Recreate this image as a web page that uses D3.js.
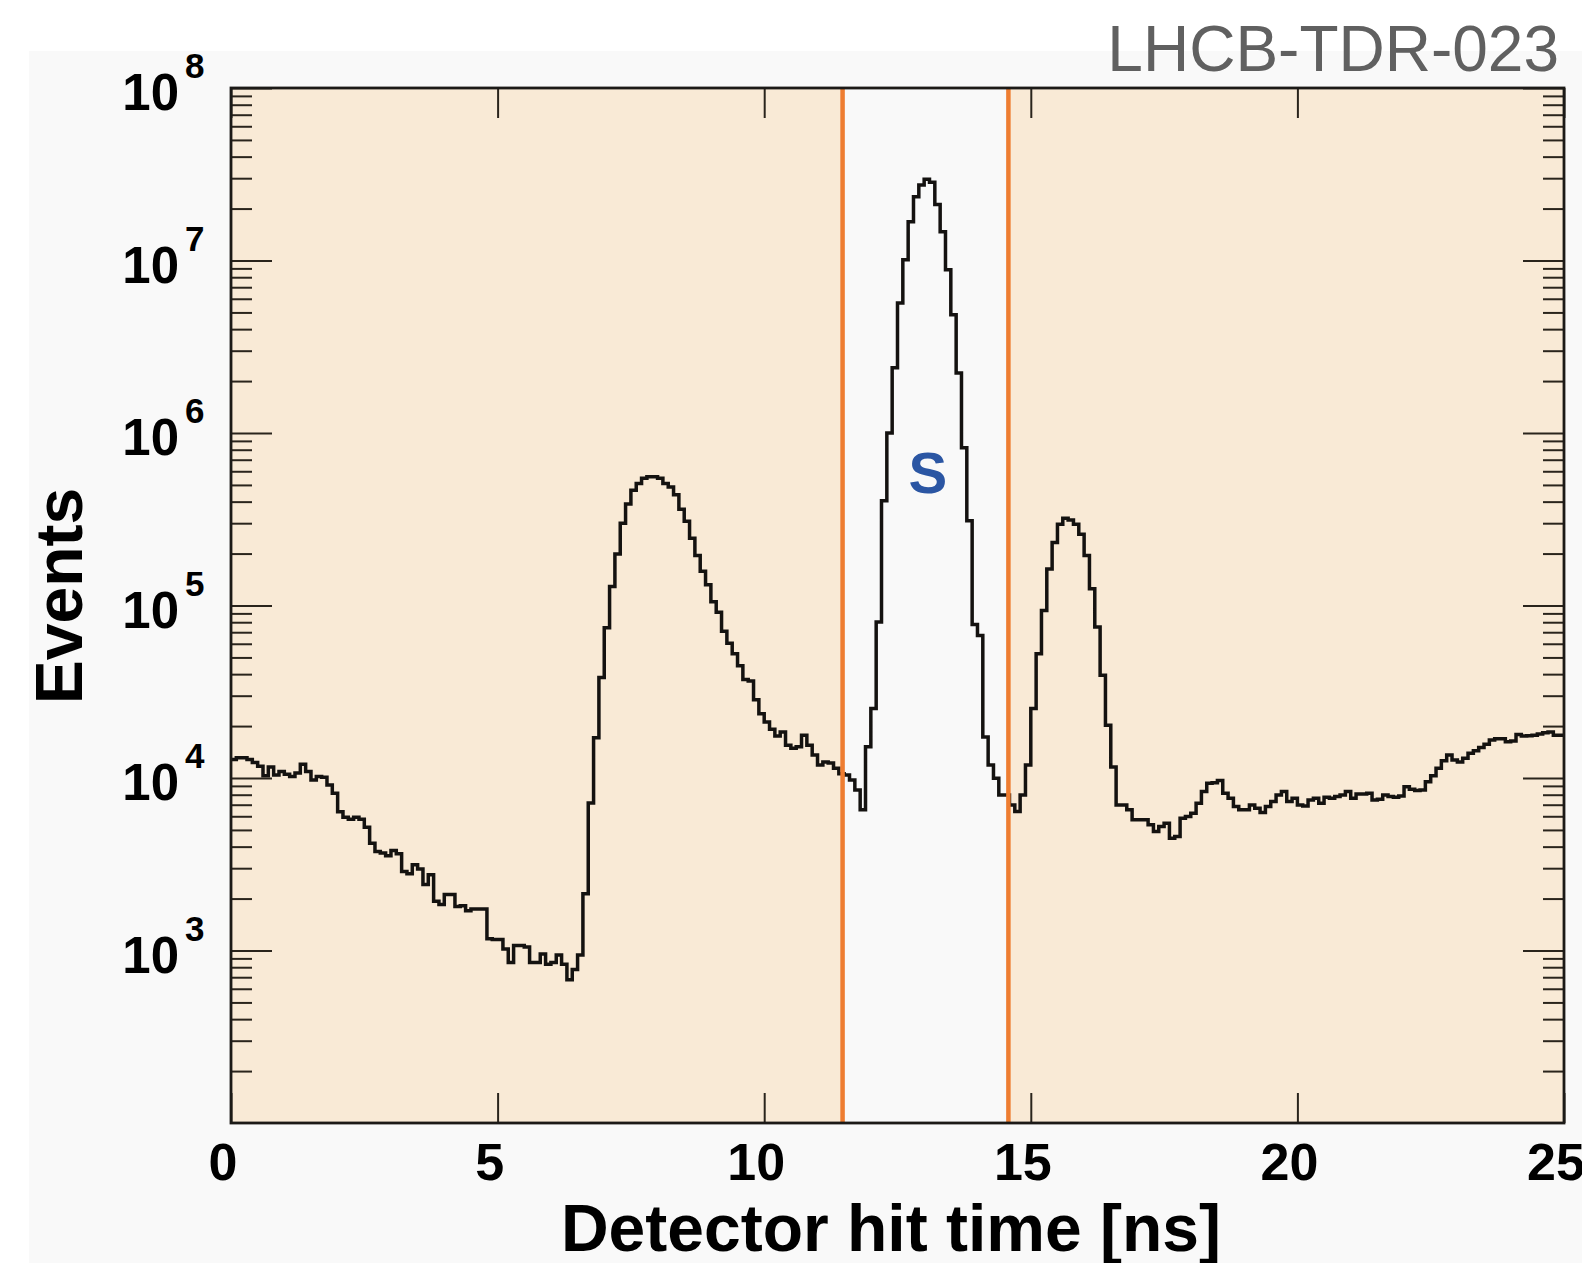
<!DOCTYPE html>
<html>
<head>
<meta charset="utf-8">
<script src="https://cdn.jsdelivr.net/npm/d3@7"></script>
<style>
  body { margin: 0; background: #ffffff; }
  svg { display: block; }
  text { font-family: "Liberation Sans", Arial, Helvetica, sans-serif; }
</style>
</head>
<body>
<svg id="chart" width="1582" height="1263"></svg>
<script>
// histogram: 250 bins of 0.1 ns from 0 to 25 ns
const binStart = 0;
const binWidth = 0.1;
const counts = [
  12800, 13100, 13100, 12800, 12300, 11700, 10300, 11600, 10400, 10900,
  10500, 10200, 10700, 12000, 10900, 9730, 10200, 10100, 9120, 8150,
  6380, 5930, 5770, 5930, 5770, 5190, 4190, 3750, 3670, 3540,
  3800, 3640, 2870, 2790, 3140, 2970, 2410, 2750, 1930, 1850,
  2110, 2110, 1800, 1820, 1700, 1740, 1740, 1740, 1170, 1160,
  1160, 1020, 851, 1070, 1070, 1047, 851, 851, 955, 832,
  851, 943, 832, 677, 776, 943, 2130, 7170, 17100, 38200,
  74300, 129000, 199000, 300000, 387000, 465000, 509000, 546000, 558000, 558000,
  546000, 509000, 486000, 438000, 361000, 308000, 245000, 195000, 158000, 132000,
  105000, 91300, 71000, 60400, 52600, 44800, 37300, 36500, 28400, 23600,
  21100, 19200, 17500, 18500, 15500, 14900, 15200, 17700, 15500, 13600,
  11900, 12400, 12200, 11400, 10600, 10400, 9740, 8530, 6540, 15200,
  25300, 80100, 405000, 1000000, 2390000, 5670000, 10100000, 16800000, 23400000, 27400000,
  29600000, 28400000, 21100000, 14700000, 8830000, 4850000, 2230000, 822000, 310000, 77700,
  67100, 17300, 11900, 9960, 7980, 7980, 6980, 6390, 7980, 11900,
  25300, 52600, 93500, 163000, 232000, 296000, 321000, 313000, 296000, 259000,
  195000, 125000, 75000, 39400, 20200, 11600, 6980, 6980, 6540, 5720,
  5720, 5720, 5350, 4890, 5230, 5470, 4480, 4580, 5850, 5980,
  6250, 7150, 8340, 9320, 9390, 9660, 8170, 7640, 6830, 6540,
  6540, 6980, 6680, 6300, 6830, 7300, 7980, 8340, 7300, 7640,
  6980, 6890, 7460, 7640, 7140, 7730, 7640, 7800, 7980, 8340,
  7640, 8090, 8090, 8150, 7460, 7540, 7980, 7800, 7730, 7870,
  8910, 8610, 8450, 8530, 9520, 10300, 11400, 12600, 13600, 12700,
  12400, 13000, 13900, 14400, 15000, 15700, 16600, 16900, 16900, 16200,
  16400, 17900, 17500, 17600, 17700, 18000, 18300, 18500, 17700, 17700
];

// signal time window (orange cut lines)
const cutLow = 11.47;
const cutHigh = 14.58;

const xDomain = [0, 25];
const yDomain = [1e2, 1e8];
const xTicks = [0, 5, 10, 15, 20, 25];
const yExponents = [3, 4, 5, 6, 7, 8];
const minorMultipliers = [2, 3, 4, 5, 6, 7, 8, 9];
const minorDecades = [2, 3, 4, 5, 6, 7];

const xTitle = "Detector hit time [ns]";
const yTitle = "Events";
const tag = "LHCB-TDR-023";
const windowLabel = "S";
const windowLabelPos = [13.07, 4.5e5];

// layout
const W = 1582, H = 1263;
const x0 = 231, x1 = 1564, y0 = 88, y1 = 1123;
const frameCol = "#1c1a17";
const peach = "#f9ead6";
const grey = "#f9f9f9";
const orange = "#ee7d31";

const svg = d3.select("#chart");

const x = d3.scaleLinear().domain(xDomain).range([x0, x1]);
const y = d3.scaleLog().domain(yDomain).range([y1, y0]);

// page background panel
svg.append("rect").attr("x", 29).attr("y", 51)
  .attr("width", W - 29).attr("height", H - 51).attr("fill", grey);

// plot area
svg.append("rect").attr("x", x0).attr("y", y0)
  .attr("width", x1 - x0).attr("height", y1 - y0).attr("fill", peach);
svg.append("rect").attr("x", x(cutLow)).attr("y", y0)
  .attr("width", x(cutHigh) - x(cutLow)).attr("height", y1 - y0).attr("fill", grey);

svg.append("defs").append("clipPath").attr("id", "clip_plot")
  .append("rect").attr("x", x0).attr("y", y0)
  .attr("width", x1 - x0).attr("height", y1 - y0);

// histogram as a step line
const pts = counts.map((c, i) => [binStart + i * binWidth, c]);
pts.push([binStart + counts.length * binWidth, counts[counts.length - 1]]);

const line = d3.line()
  .x((d) => x(d[0]))
  .y((d) => y(d[1]))
  .curve(d3.curveStepAfter);

svg.append("path")
  .datum(pts)
  .attr("clip-path", "url(#clip_plot)")
  .attr("d", line)
  .attr("fill", "none")
  .attr("stroke", "#141210")
  .attr("stroke-width", 3.5)
  .attr("stroke-linejoin", "miter");

// cut lines
svg.append("g")
  .selectAll("line")
  .data([cutLow, cutHigh])
  .join("line")
  .attr("x1", (d) => x(d)).attr("x2", (d) => x(d))
  .attr("y1", y0).attr("y2", y1)
  .attr("stroke", orange)
  .attr("stroke-width", 4.5);

// ticks (inside, ROOT style)
const minorVals = [];
minorDecades.forEach((e) => minorMultipliers.forEach((m) => minorVals.push(m * Math.pow(10, e))));
const majorVals = yExponents.map((e) => Math.pow(10, e));

function tickStyle(g) {
  g.select(".domain").remove();
  g.selectAll(".tick line").attr("stroke", "#2a241c").attr("stroke-width", 2);
}

svg.append("g").attr("transform", `translate(${x0},0)`)
  .call(d3.axisLeft(y).tickValues(minorVals).tickSize(-21).tickFormat(""))
  .call(tickStyle);
svg.append("g").attr("transform", `translate(${x0},0)`)
  .call(d3.axisLeft(y).tickValues(majorVals).tickSize(-41).tickFormat(""))
  .call(tickStyle);
svg.append("g").attr("transform", `translate(${x1},0)`)
  .call(d3.axisRight(y).tickValues(minorVals).tickSize(-21).tickFormat(""))
  .call(tickStyle);
svg.append("g").attr("transform", `translate(${x1},0)`)
  .call(d3.axisRight(y).tickValues(majorVals).tickSize(-41).tickFormat(""))
  .call(tickStyle);
svg.append("g").attr("transform", `translate(0,${y1})`)
  .call(d3.axisBottom(x).tickValues(xTicks).tickSize(-30).tickFormat(""))
  .call(tickStyle);
svg.append("g").attr("transform", `translate(0,${y0})`)
  .call(d3.axisTop(x).tickValues(xTicks).tickSize(-30).tickFormat(""))
  .call(tickStyle);

// frame
svg.append("rect").attr("x", x0).attr("y", y0)
  .attr("width", x1 - x0).attr("height", y1 - y0)
  .attr("fill", "none").attr("stroke", frameCol).attr("stroke-width", 2.8);

// y labels 10^n
const ylab = svg.append("g").selectAll("g").data(yExponents).join("g");
ylab.append("text")
  .attr("x", 179).attr("y", (d) => y(Math.pow(10, d)) + 22)
  .attr("text-anchor", "end")
  .attr("font-size", 51).attr("font-weight", "bold").attr("fill", "#000")
  .text("10");
ylab.append("text")
  .attr("x", 185).attr("y", (d) => y(Math.pow(10, d)) - 10)
  .attr("font-size", 35).attr("font-weight", "bold").attr("fill", "#000")
  .text((d) => d);

// x labels
svg.append("g").selectAll("text").data(xTicks).join("text")
  .attr("x", (d) => x(d) - 8).attr("y", 1180)
  .attr("text-anchor", "middle")
  .attr("font-size", 52).attr("font-weight", "bold").attr("fill", "#000")
  .text((d) => d);

// axis titles
svg.append("text")
  .attr("x", 891).attr("y", 1251)
  .attr("text-anchor", "middle")
  .attr("font-size", 66).attr("font-weight", "bold").attr("fill", "#000")
  .text(xTitle);
svg.append("text")
  .attr("transform", "translate(82,596) rotate(-90)")
  .attr("text-anchor", "middle")
  .attr("font-size", 66).attr("font-weight", "bold").attr("fill", "#000")
  .text(yTitle);

// tag
svg.append("text")
  .attr("x", 1559).attr("y", 71)
  .attr("text-anchor", "end")
  .attr("font-size", 64).attr("fill", "#606060")
  .text(tag);

// window label
svg.append("text")
  .attr("x", x(windowLabelPos[0])).attr("y", y(windowLabelPos[1]))
  .attr("text-anchor", "middle")
  .attr("font-size", 58).attr("font-weight", "bold").attr("fill", "#2b56a3")
  .text(windowLabel);
</script>
</body>
</html>
